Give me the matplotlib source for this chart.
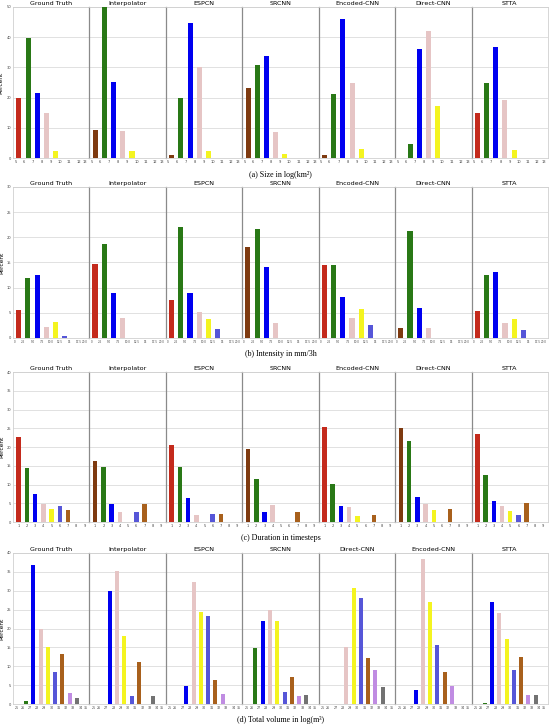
import matplotlib
matplotlib.use("Agg")
import matplotlib.pyplot as plt

W, H = 550, 727
fig = plt.figure(figsize=(W / 100, H / 100), dpi=100)

# ---------------- data ----------------
methods_abc = ["Ground Truth", "Interpolator", "ESPCN", "SRCNN", "Encoded-CNN", "Direct-CNN", "STTA"]
methods_d = ["Ground Truth", "Interpolator", "ESPCN", "SRCNN", "Direct-CNN", "Encoded-CNN", "STTA"]

# (a) Size in log(km^2)
size_bins = [5.5, 6.5, 7.5, 8.5, 9.5]
size_ticks = [5, 6, 7, 8, 9, 10, 11, 12, 13]
size_pct = [
    [20.0, 39.9, 21.4, 14.8, 2.4],
    [9.3, 51.0, 25.2, 8.8, 2.3],
    [1.0, 19.9, 44.7, 30.0, 2.4],
    [23.1, 30.9, 33.7, 8.7, 1.3],
    [1.0, 21.3, 45.9, 25.0, 3.0],
    [0.0, 4.7, 36.1, 41.9, 17.3],
    [15.0, 24.9, 36.6, 19.3, 2.7],
]

# (b) Intensity in mm/3h
intensity_bins = [1.25, 3.75, 6.25, 8.75, 11.25, 13.75]
intensity_ticks = [0, 2.5, 5.0, 7.5, 10.0, 12.5, 15.0, 17.5, 20.0]
intensity_ticklabels = ["0", "2.5", "5.0", "7.5", "10.0", "12.5", "15", "17.5", "20.0"]
intensity_pct = [
    [5.6, 11.9, 12.5, 2.1, 3.1, 0.3],
    [14.7, 18.6, 9.0, 4.0, 0.0, 0.0],
    [7.5, 22.1, 9.0, 5.1, 3.7, 1.7],
    [18.1, 21.7, 14.1, 3.0, 0.0, 0.0],
    [14.5, 14.5, 8.1, 4.0, 5.7, 2.5],
    [1.9, 21.3, 6.0, 2.0, 0.0, 0.0],
    [5.3, 12.5, 13.1, 2.9, 3.7, 1.5],
]

# (c) Duration in timesteps
duration_bins = [1, 2, 3, 4, 5, 6, 7]
duration_ticks = [1, 2, 3, 4, 5, 6, 7, 8, 9]
duration_pct = [
    [22.6, 14.5, 7.4, 4.9, 3.5, 4.3, 3.2],
    [16.3, 14.8, 4.8, 2.7, 0.0, 2.7, 4.9],
    [20.5, 14.7, 6.5, 2.0, 0.0, 2.1, 2.1],
    [19.5, 11.5, 2.6, 4.5, 0.0, 0.0, 2.7],
    [25.3, 10.2, 4.4, 3.9, 1.5, 0.0, 1.8],
    [25.2, 21.6, 6.7, 4.7, 3.2, 0.0, 3.4],
    [23.6, 12.5, 5.6, 4.3, 2.9, 1.8, 5.1],
]

# (d) Total volume in log(m^3)
volume_bins = [26.5, 27.5, 28.5, 29.5, 30.5, 31.5, 32.5, 33.5]
volume_ticks = [25, 26, 27, 28, 29, 30, 31, 32, 33, 34, 35]
volume_pct = [
    [0.9, 36.9, 20.0, 15.0, 8.6, 13.2, 3.0, 1.5],
    [0.0, 29.9, 35.1, 18.0, 2.1, 11.2, 0.0, 2.2],
    [0.0, 4.9, 32.3, 24.3, 23.4, 6.4, 2.6, 0.0],
    [14.8, 22.0, 24.8, 21.9, 3.1, 7.2, 2.2, 2.3],
    [0.0, 0.0, 15.1, 30.6, 28.1, 12.3, 9.0, 4.5],
    [0.0, 3.8, 38.3, 27.0, 15.5, 8.5, 4.9, 0.0],
    [0.3, 26.9, 24.1, 17.1, 8.9, 12.5, 2.4, 2.5],
]

# ---------------- styles ----------------
RED = "#c42a1c"
BROWN = "#7e3a10"
GREEN = "#297816"
BLUE = "#0000f0"
PINK = "#e6c5c5"
YELLOW = "#f4f420"
SLATE = "#5656d8"
ORANGE = "#a8601c"
PURPLE = "#c08ce2"
GREY = "#727272"

abc_first = {
    "a": [RED, BROWN, BROWN, BROWN, BROWN, BROWN, RED],
    "b": [RED, RED, RED, BROWN, RED, BROWN, RED],
    "c": [RED, BROWN, RED, BROWN, RED, BROWN, RED],
}
rest_abc = [GREEN, BLUE, PINK, YELLOW, SLATE, ORANGE]
colors_d = [GREEN, BLUE, PINK, YELLOW, SLATE, ORANGE, PURPLE, GREY]

LEFT, RIGHT = 13.0, 548.0
PW = (RIGHT - LEFT) / 7


def draw_row(top, bot, methods, xs, values, colors_per_panel, xticks, xticklabels,
             xlim, ylim, yticks, width, caption, cap_y, edge_align=False, xfs=2.6):
    for i, m in enumerate(methods):
        ax = fig.add_axes([(LEFT + i * PW) / W, 1 - bot / H, PW / W, (bot - top) / H])
        ax.bar(xs, values[i], width=width, color=colors_per_panel[i][:len(xs)], zorder=3)
        ax.set_xlim(*xlim)
        ax.set_ylim(*ylim)
        ax.set_yticks(yticks)
        ax.set_xticks(xticks)
        labs = ax.set_xticklabels(xticklabels, fontsize=xfs, color="#444444")
        if edge_align:
            labs[0].set_ha("left")
            labs[-1].set_ha("right")
        ax.tick_params(axis="both", length=0, pad=1.2)
        ax.grid(axis="y", color="#dcdcdc", linewidth=0.6, zorder=0)
        ax.set_axisbelow(True)
        for s in ["top", "right", "bottom", "left"]:
            ax.spines[s].set_color("#d0d0d0")
            ax.spines[s].set_linewidth(0.6)
        if i > 0:
            ax.spines["left"].set_color("#8a8a8a")
            ax.spines["left"].set_linewidth(0.9)
            ax.tick_params(axis="y", labelleft=False)
        else:
            ax.set_yticklabels([str(t) for t in yticks], fontsize=2.6, color="#444444")
            ax.set_ylabel("Percent", fontsize=4.2, labelpad=2)
        ax.set_title(m, fontsize=4.6, pad=1.2)
    fig.text((LEFT + RIGHT) / 2 / W, 1 - cap_y / H, caption, ha="center", va="center",
             fontsize=5.8, family=["Liberation Serif", "DejaVu Serif"])


cols_a = [[abc_first["a"][i]] + rest_abc for i in range(7)]
cols_b = [[abc_first["b"][i]] + rest_abc for i in range(7)]
cols_c = [[abc_first["c"][i]] + rest_abc for i in range(7)]
cols_d = [colors_d for _ in range(7)]

draw_row(7, 158, methods_abc, size_bins, size_pct, cols_a, size_ticks,
         [str(t) for t in size_ticks], (4.85, 13.2), (0, 50), [0, 10, 20, 30, 40, 50],
         0.55, "(a) Size in log(km²)", 175, edge_align=True)

draw_row(187, 338, methods_abc, intensity_bins, intensity_pct, cols_b, intensity_ticks,
         intensity_ticklabels, (-0.27, 20.4), (0, 30), [0, 5, 10, 15, 20, 25, 30],
         1.4, "(b) Intensity in mm/3h", 354, edge_align=True, xfs=2.0)

draw_row(372, 522, methods_abc, duration_bins, duration_pct, cols_c, duration_ticks,
         [str(t) for t in duration_ticks], (0.3, 9.6), (0, 40), [0, 5, 10, 15, 20, 25, 30, 35, 40],
         0.55, "(c) Duration in timesteps", 538)

draw_row(553, 704, methods_d, volume_bins, volume_pct, cols_d, volume_ticks,
         [str(t) for t in volume_ticks], (24.7, 35.2), (0, 40), [0, 5, 10, 15, 20, 25, 30, 35, 40],
         0.55, "(d) Total volume in log(m³)", 720, edge_align=True, xfs=2.3)

fig.savefig("out.png", dpi=100)
